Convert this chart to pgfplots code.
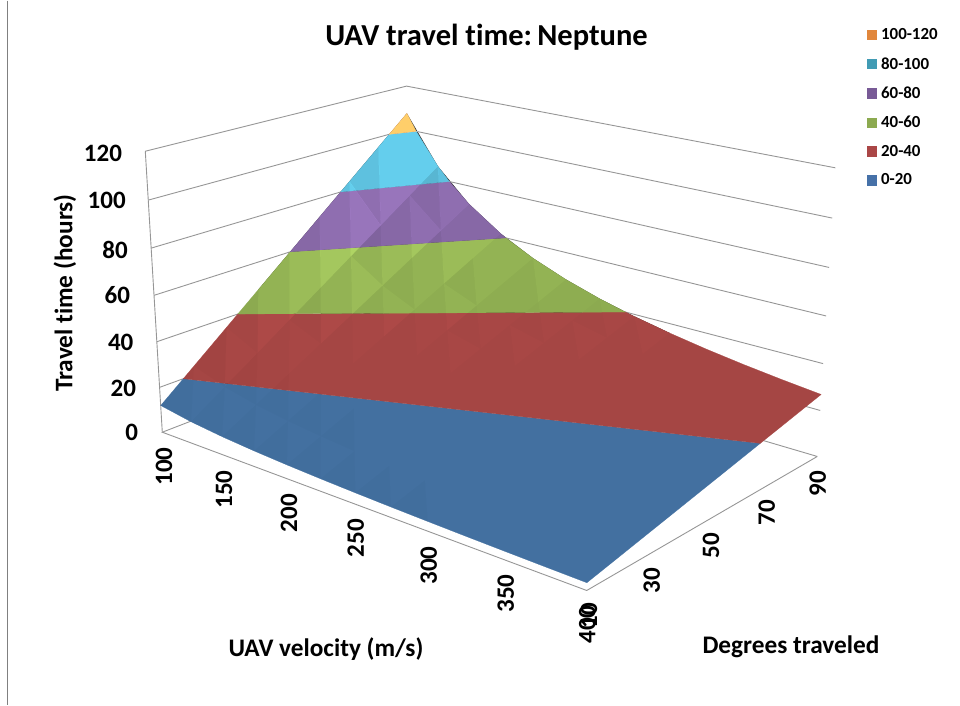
\documentclass[border=0pt]{standalone}
\usepackage{fontspec}
\setmainfont{Carlito}[Ligatures=NoCommon]
\usepackage{pgfplots}
\usepackage{pgfplotstable}
\pgfplotsset{compat=1.18}
\definecolor{cBlue}{RGB}{67,112,160}
\definecolor{cRed}{RGB}{165,70,68}
\definecolor{cGreen}{RGB}{140,170,80}
\definecolor{cPurple}{RGB}{122,94,150}
\definecolor{cTeal}{RGB}{80,165,190}
\definecolor{cOrange}{RGB}{245,165,85}
\definecolor{lBlue}{RGB}{70,113,168}
\definecolor{lRed}{RGB}{170,70,70}
\definecolor{lGreen}{RGB}{140,170,80}
\definecolor{lPurple}{RGB}{120,90,150}
\definecolor{lTeal}{RGB}{65,155,180}
\definecolor{lOrange}{RGB}{225,135,60}
\definecolor{cGrid}{RGB}{150,150,150}
% travel time (hours): rows = degrees traveled, columns = UAV velocity (m/s)
\pgfplotstableread{
d v100 v125 v150 v175 v200 v225 v250 v275 v300 v325 v350 v375 v400
10 11.94 9.552 7.96 6.823 5.97 5.307 4.776 4.342 3.98 3.674 3.411 3.184 2.985
20 23.88 19.10 15.92 13.65 11.94 10.61 9.552 8.684 7.96 7.348 6.823 6.368 5.97
30 35.82 28.66 23.88 20.47 17.91 15.92 14.33 13.03 11.94 11.02 10.23 9.552 8.955
40 47.76 38.21 31.84 27.29 23.88 21.23 19.10 17.37 15.92 14.70 13.65 12.74 11.94
50 59.70 47.76 39.80 34.11 29.85 26.53 23.88 21.71 19.90 18.37 17.06 15.92 14.93
60 71.64 57.31 47.76 40.94 35.82 31.84 28.66 26.05 23.88 22.04 20.47 19.10 17.91
70 83.58 66.86 55.72 47.76 41.79 37.15 33.43 30.39 27.86 25.72 23.88 22.29 20.90
80 95.52 76.42 63.68 54.58 47.76 42.45 38.21 34.74 31.84 29.39 27.29 25.47 23.88
90 107.46 85.97 71.64 61.41 53.73 47.76 42.98 39.08 35.82 33.06 30.70 28.66 26.87
}\gridT
% colour bands of the surface, as v d T outlines
\pgfplotstableread{
v d T
100 10 11.94
100 16.75 20
400 67 20
400 10 2.985
375 10 3.184
350 10 3.411
325 10 3.674
300 10 3.98
275 10 4.342
250 10 4.776
225 10 5.307
200 10 5.97
175 10 6.823
150 10 7.96
125 10 9.552
}\bandA
\pgfplotstableread{
v d T
100 16.75 20
100 33.5 40
268.7 90 40
275 90 39.08
300 90 35.82
325 90 33.06
350 90 30.70
375 90 28.66
400 90 26.87
400 67 20
}\bandB
\pgfplotstableread{
v d T
100 33.5 40
100 50.25 60
179.1 90 60
200 90 53.73
225 90 47.76
250 90 42.98
268.7 90 40
}\bandC
\pgfplotstableread{
v d T
100 50.25 60
100 67 80
134.3 90 80
150 90 71.64
175 90 61.41
179.1 90 60
}\bandD
\pgfplotstableread{
v d T
100 67 80
100 83.75 100
107.5 90 100
125 90 85.97
134.3 90 80
}\bandE
\pgfplotstableread{
v d T
100 83.75 100
100 90 107.46
107.5 90 100
}\bandF
% frame
\pgfplotstableread{
v d T
400 90 0
400 10 0
100 10 0
100 90 0
400 90 0
}\floorT
\pgfplotstableread{
v d
100 10
100 90
400 90
}\wallT
\pgfplotstableread{
v d T
100 10 0
100 10 120
}\edgeT
\tikzset{declare function={
  ww(\a,\b,\c)=1-0.1647*((\a-100)/300)+0.1352*((\b-10)/80)-0.05*(\c/120);
  px(\a,\b,\c)=(162.3+327.8*((\a-100)/300)+303.1*((\b-10)/80)-24.27*(\c/120))/ww(\a,\b,\c);
  py(\a,\b,\c)=(431.7+61.1*((\a-100)/300)-50.3*((\b-10)/80)-288.5*(\c/120))/ww(\a,\b,\c);
}}
\pgfplotsset{
  /pgfplots/table/proj/.style={x expr={px(\thisrow{v},\thisrow{d},\thisrow{T})},y expr={py(\thisrow{v},\thisrow{d},\thisrow{T})}},
  gridln/.style={draw=cGrid,line width=0.9pt,mark=none,forget plot},
  band/.style={fill=#1,draw=#1,line width=0.2pt,mark=none,forget plot},
  shadeW/.style={fill=white!#1!black,/tikz/blend mode=color dodge,draw=none,mark=none,forget plot,unbounded coords=jump},
  shadeK/.style={fill=black,fill opacity=#1,draw=none,mark=none,forget plot,unbounded coords=jump},
}
% facet shading lists, from the slope of each triangle of the grid
\foreach \i in {0,...,12}{
  \foreach \j in {0,...,8}{
    \pgfmathtruncatemacro{\cc}{\i+1}
    \pgfplotstablegetelem{\j}{[index]\cc}\of\gridT
    \let\tv\pgfplotsretval
    \pgfmathsetmacro{\vv}{100+25*\i}
    \pgfmathsetmacro{\dd}{10+10*\j}
    \pgfmathsetmacro{\xx}{px(\vv,\dd,\tv)}
    \pgfmathsetmacro{\yy}{py(\vv,\dd,\tv)}
    \expandafter\xdef\csname TT-\i-\j\endcsname{\tv}
    \expandafter\xdef\csname PP-\i-\j\endcsname{(\xx,\yy)}
  }
}
\gdef\lvA{}\gdef\lvB{}\gdef\lvC{}\gdef\lvD{}\gdef\lvE{}\gdef\lvK{}
\newcommand\gT[2]{\csname TT-#1-#2\endcsname}
\newcommand\gP[2]{\csname PP-#1-#2\endcsname}
\newcommand\classify[2]{% q, triangle text
  \ifdim#1pt>0.75pt \xdef\lvA{\lvA #2}\else
  \ifdim#1pt>0.5pt \xdef\lvB{\lvB #2}\else
  \ifdim#1pt>0.3pt \xdef\lvC{\lvC #2}\else
  \ifdim#1pt>0.15pt \xdef\lvD{\lvD #2}\else
  \ifdim#1pt>0.05pt \xdef\lvE{\lvE #2}\else
  \ifdim#1pt<-0.15pt \xdef\lvK{\lvK #2}\fi\fi\fi\fi\fi\fi}
\foreach \i in {0,...,11}{
  \foreach \j in {0,...,7}{
    \pgfmathtruncatemacro{\ip}{\i+1}
    \pgfmathtruncatemacro{\jp}{\j+1}
    \pgfmathsetmacro{\qL}{0.07*(\gT{\i}{\j}-\gT{\ip}{\j})-0.9*0.04667*(\gT{\i}{\jp}-\gT{\i}{\j})}
    \pgfmathsetmacro{\qR}{0.07*(\gT{\i}{\jp}-\gT{\ip}{\jp})-0.9*0.04667*(\gT{\ip}{\jp}-\gT{\ip}{\j})}
    \edef\triL{\gP{\i}{\j}\gP{\i}{\jp}\gP{\ip}{\j}(nan,nan) }
    \edef\triR{\gP{\ip}{\jp}\gP{\i}{\jp}\gP{\ip}{\j}(nan,nan) }
    \classify{\qL}{\triL}
    \classify{\qR}{\triR}
  }
}
\newcommand\tickf{\fontsize{25}{28}\selectfont\bfseries}
\newcommand\labf{\fontsize{25.3}{28}\selectfont\bfseries}
\begin{document}
\begin{tikzpicture}
\begin{axis}[
  scale only axis,width=960pt,height=704pt,
  xmin=0,xmax=960,ymin=0,ymax=704,y dir=reverse,
  axis line style={draw=none},ticks=none,clip=false,
  legend style={at={(axis cs:866.7,26)},anchor=north west,draw=none,fill=none,
    font=\fontsize{16.9}{19}\selectfont\bfseries,/tikz/row sep=12.1pt,/tikz/inner sep=0pt,/tikz/column sep=2.3pt},
  legend cell align=left,
  legend image code/.code={\fill[#1] (0pt,-4.7pt) rectangle (9.5pt,4.7pt);},
]
% page edge
\addplot[color=gray,line width=1pt,mark=none,forget plot] coordinates {(7.5,0) (7.5,704)};
% walls and floor
\addplot[gridln] table[proj]{\floorT};
\pgfplotsinvokeforeach{20,40,60,80,100,120}{
  \addplot[gridln] table[x expr={px(\thisrow{v},\thisrow{d},#1)},y expr={py(\thisrow{v},\thisrow{d},#1)}]{\wallT};
}
\addplot[gridln] table[proj]{\edgeT};
% surface bands
\addplot[band=cBlue] table[proj]{\bandA} -- cycle;
\addplot[band=cRed] table[proj]{\bandB} -- cycle;
\addplot[band=cGreen] table[proj]{\bandC} -- cycle;
\addplot[band=cPurple] table[proj]{\bandD} -- cycle;
\addplot[band=cTeal] table[proj]{\bandE} -- cycle;
\addplot[band=cOrange] table[proj]{\bandF} -- cycle;
% facets
\edef\tmp{\noexpand\addplot[shadeW=20] coordinates {\lvA};}\tmp
\edef\tmp{\noexpand\addplot[shadeW=15] coordinates {\lvB};}\tmp
\edef\tmp{\noexpand\addplot[shadeW=10] coordinates {\lvC};}\tmp
\edef\tmp{\noexpand\addplot[shadeW=5] coordinates {\lvD};}\tmp
\edef\tmp{\noexpand\addplot[shadeW=2] coordinates {\lvE};}\tmp
\edef\tmp{\noexpand\addplot[shadeK=0.015] coordinates {\lvK};}\tmp
% legend
\addlegendimage{lOrange}\addlegendentry{100-120}
\addlegendimage{lTeal}\addlegendentry{80-100}
\addlegendimage{lPurple}\addlegendentry{60-80}
\addlegendimage{lGreen}\addlegendentry{40-60}
\addlegendimage{lRed}\addlegendentry{20-40}
\addlegendimage{lBlue}\addlegendentry{0-20}
% texts
\node at (axis cs:486.5,37) {\fontsize{30.5}{33}\selectfont\bfseries UAV travel time:\hspace{0.17em}Neptune};
\node[rotate=90] at (axis cs:65,292.5) {\labf Travel time (hours)};
\node at (axis cs:326,649) {\labf UAV velocity (m/s)};
\node at (axis cs:791,646) {\labf Degrees traveled};
\node at (axis cs:103,152.7) {\tickf 120};
\node at (axis cs:106.7,200) {\tickf 100};
\node at (axis cs:115,249.3) {\tickf 80};
\node at (axis cs:117.3,295) {\tickf 60};
\node at (axis cs:120.7,341.7) {\tickf 40};
\node at (axis cs:123.3,387.7) {\tickf 20};
\node at (axis cs:131.7,432.3) {\tickf 0};
\node[rotate=90] at (axis cs:164,466) {\tickf 100};
\node[rotate=90] at (axis cs:224,489) {\tickf 150};
\node[rotate=90] at (axis cs:289,512.7) {\tickf 200};
\node[rotate=90] at (axis cs:355.7,537.7) {\tickf 250};
\node[rotate=90] at (axis cs:428.7,565) {\tickf 300};
\node[rotate=90] at (axis cs:505.7,593) {\tickf 350};
\node[rotate=90] at (axis cs:587.3,624) {\tickf 400};
\node[rotate=90] at (axis cs:589,615) {\tickf 10};
\node[rotate=90] at (axis cs:651.7,580) {\tickf 30};
\node[rotate=90] at (axis cs:711,545) {\tickf 50};
\node[rotate=90] at (axis cs:766.7,512) {\tickf 70};
\node[rotate=90] at (axis cs:817.7,483.3) {\tickf 90};
\end{axis}
\end{tikzpicture}
\end{document}
